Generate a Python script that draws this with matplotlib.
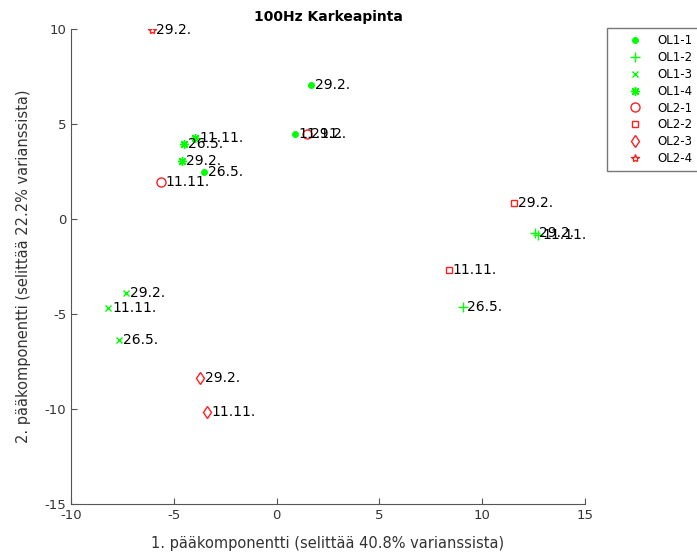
import matplotlib

matplotlib.use("Agg")
import matplotlib.pyplot as plt

# PCA scores per measurement series (PC1, PC2) and the date of each measurement
SERIES = ["OL1-1", "OL1-2", "OL1-3", "OL1-4", "OL2-1", "OL2-2", "OL2-3", "OL2-4"]

ol1_1_x = [1.67, 0.88, -3.52]
ol1_1_y = [7.05, 4.46, 2.49]
ol1_1_dates = ["29.2.", "11.11.", "26.5."]

ol1_2_x = [12.57, 12.71, 9.08]
ol1_2_y = [-0.72, -0.84, -4.65]
ol1_2_dates = ["29.2.", "11.11.", "26.5."]

ol1_3_x = [-7.34, -8.21, -7.68]
ol1_3_y = [-3.91, -4.70, -6.37]
ol1_3_dates = ["29.2.", "11.11.", "26.5."]

ol1_4_x = [-4.59, -3.97, -4.49]
ol1_4_y = [3.07, 4.28, 3.95]
ol1_4_dates = ["29.2.", "11.11.", "26.5."]

ol2_1_x = [1.48, -5.61]
ol2_1_y = [4.46, 1.93]
ol2_1_dates = ["29.2.", "11.11."]

ol2_2_x = [11.56, 8.37]
ol2_2_y = [0.86, -2.68]
ol2_2_dates = ["29.2.", "11.11."]

ol2_3_x = [-3.71, -3.37]
ol2_3_y = [-8.35, -10.17]
ol2_3_dates = ["29.2.", "11.11."]

ol2_4_x = [-6.05]
ol2_4_y = [9.95]
ol2_4_dates = ["29.2."]

GREEN = "#00ff00"
RED = "#ff2020"
ASTERISK = (8, 2, 0)

styles = [
    dict(marker="o", color=GREEN, ms=4.0, fill=True),
    dict(marker="+", color=GREEN, ms=7, fill=True),
    dict(marker="x", color=GREEN, ms=4.5, fill=True),
    dict(marker=ASTERISK, color=GREEN, ms=6.5, fill=True),
    dict(marker="o", color=RED, ms=6.5, fill=False),
    dict(marker="s", color=RED, ms=4.5, fill=False),
    dict(marker="d", color=RED, ms=6.5, fill=False),
    dict(marker="*", color=RED, ms=6, fill=False),
]

data = [
    (ol1_1_x, ol1_1_y, ol1_1_dates),
    (ol1_2_x, ol1_2_y, ol1_2_dates),
    (ol1_3_x, ol1_3_y, ol1_3_dates),
    (ol1_4_x, ol1_4_y, ol1_4_dates),
    (ol2_1_x, ol2_1_y, ol2_1_dates),
    (ol2_2_x, ol2_2_y, ol2_2_dates),
    (ol2_3_x, ol2_3_y, ol2_3_dates),
    (ol2_4_x, ol2_4_y, ol2_4_dates),
]

plt.rcParams["font.family"] = "DejaVu Sans"
plt.rcParams["axes.unicode_minus"] = False

fig = plt.figure(figsize=(6.97, 5.58), dpi=100)
ax = fig.add_axes([0.1019, 0.0968, 0.7374, 0.8513])

handles = []
for name, (xs, ys, dates), st in zip(SERIES, data, styles):
    (h,) = ax.plot(
        xs,
        ys,
        linestyle="none",
        marker=st["marker"],
        markersize=st["ms"],
        color=st["color"],
        markerfacecolor=st["color"] if st["fill"] else "none",
        markeredgewidth=1.0,
        label=name,
    )
    handles.append(h)
    for x, y, d in zip(xs, ys, dates):
        ax.annotate(
            d,
            (x, y),
            xytext=(3, 0),
            textcoords="offset points",
            ha="left",
            va="center",
            fontsize=10,
            color="black",
        )

ax.set_xlim(-10, 15)
ax.set_ylim(-15, 10)
ax.set_xticks([-10, -5, 0, 5, 10, 15])
ax.set_yticks([-15, -10, -5, 0, 5, 10])
ax.spines["top"].set_visible(False)
ax.spines["right"].set_visible(False)
for s in ("left", "bottom"):
    ax.spines[s].set_color("#555555")
ax.tick_params(direction="in", length=4, colors="#555555", labelcolor="#333333",
               labelsize=9.5)

ax.set_xlabel("1. pääkomponentti (selittää 40.8% varianssista)", fontsize=10.5,
              color="#333333", labelpad=10)
ax.set_ylabel("2. pääkomponentti (selittää 22.2% varianssista)", fontsize=10.5,
              color="#333333", labelpad=10)
ax.set_title("100Hz Karkeapinta", fontsize=10, fontweight="bold", pad=6)

leg = fig.legend(
    handles=handles,
    loc="upper left",
    bbox_to_anchor=(0.871, 0.95),
    borderaxespad=0,
    fontsize=8.5,
    frameon=True,
    fancybox=False,
    edgecolor="#555555",
    labelspacing=0.32,
    handlelength=3.6,
    handletextpad=0.15,
    borderpad=0.55,
    numpoints=1,
)
leg.get_frame().set_linewidth(1.0)

fig.savefig("out.png", dpi=100)
